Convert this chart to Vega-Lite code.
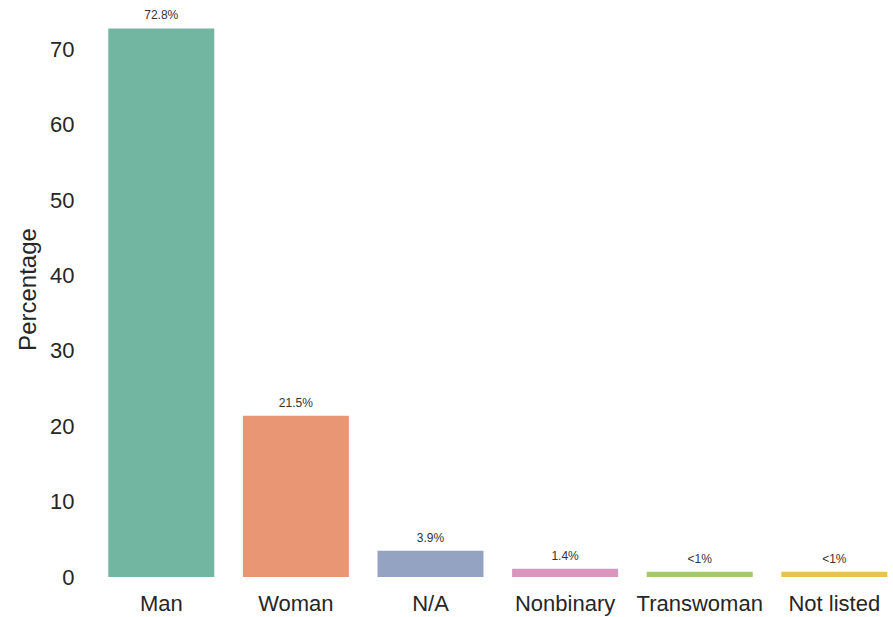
{
  "$schema": "https://vega.github.io/schema/vega-lite/v6.json",
  "autosize": "none",
  "width": 799,
  "height": 576,
  "padding": {"left": 94, "top": 1, "right": 0, "bottom": 40},
  "background": "white",
  "config": {"view": {"stroke": null}, "font": "Liberation Sans"},
  "data": {"values": [
    {"gender": "Man", "pct": 72.8, "label": "72.8%"},
    {"gender": "Woman", "pct": 21.4, "label": "21.5%"},
    {"gender": "N/A", "pct": 3.5, "label": "3.9%"},
    {"gender": "Nonbinary", "pct": 1.1, "label": "1.4%"},
    {"gender": "Transwoman", "pct": 0.7, "label": "<1%"},
    {"gender": "Not listed", "pct": 0.7, "label": "<1%"}
  ]},
  "encoding": {
    "x": {"field": "gender", "type": "nominal", "sort": null,
      "scale": {"paddingInner": 0.2125, "paddingOuter": 0.0742, "align": 0.715},
      "axis": {"title": null, "labelAngle": 0, "domain": false, "ticks": false, "tickSize": 0, "labelPadding": 16, "labelFontSize": 22, "labelColor": "#262626", "labelFont": "Liberation Sans"}},
    "y": {"field": "pct", "type": "quantitative",
      "scale": {"domain": [0, 76.44], "nice": false},
      "axis": {"title": "Percentage", "values": [0, 10, 20, 30, 40, 50, 60, 70], "grid": false, "domain": false, "ticks": false, "tickSize": 0, "labelPadding": 20, "labelFontSize": 22, "labelColor": "#262626", "labelFont": "Liberation Sans", "titleFontSize": 24, "titleFontWeight": "normal", "titleColor": "#262626", "titleFont": "Liberation Sans", "titlePadding": 9}}
  },
  "layer": [
    {"mark": {"type": "bar"},
     "encoding": {"color": {"field": "gender", "type": "nominal", "sort": null, "legend": null,
       "scale": {"domain": ["Man", "Woman", "N/A", "Nonbinary", "Transwoman", "Not listed"],
                 "range": ["#72b6a1", "#e99675", "#95a3c3", "#db96c0", "#a6c96a", "#e5c452"]}}}},
    {"mark": {"type": "text", "baseline": "alphabetic", "dy": -9, "fontSize": 12, "color": "#333333", "font": "Liberation Sans"},
     "encoding": {"text": {"field": "label"}}}
  ]
}
